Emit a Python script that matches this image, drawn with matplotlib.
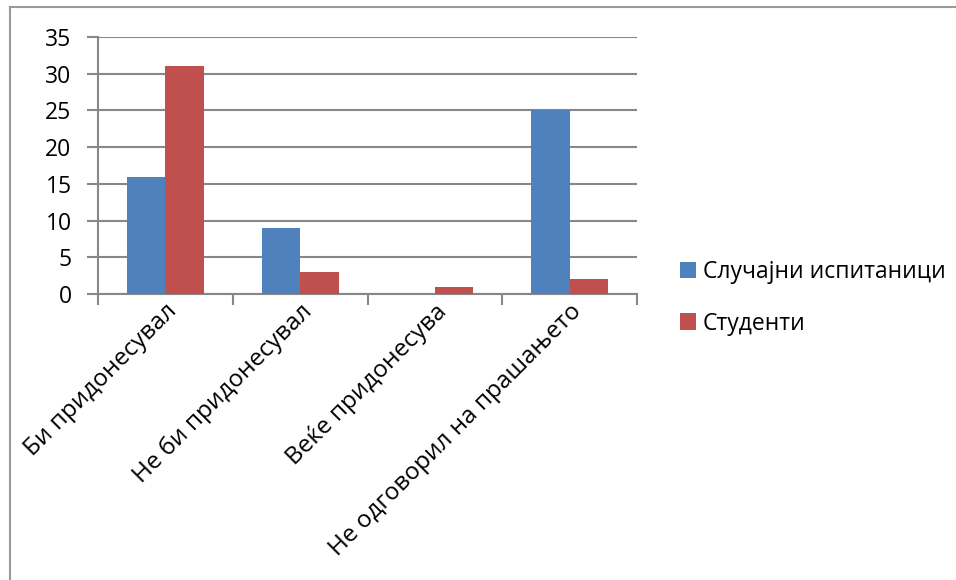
import matplotlib.pyplot as plt
import numpy as np
from matplotlib.lines import Line2D

plt.rcParams['font.family'] = ['Open Sans', 'DejaVu Sans']

categories = ['Би придонесувал', 'Не би придонесувал', 'Веќе придонесува', 'Не одговорил на прашањето']
random_resp = [16, 9, 0, 25]
students = [31, 3, 1, 2]
series_names = ['Случајни испитаници', 'Студенти']

BLUE = '#4F81BD'
RED = '#C0504D'
GRID = '#878787'
FS = 16.5

fig = plt.figure(figsize=(9.56, 5.8), dpi=100)
ax = fig.add_axes([98 / 956, 1 - 294 / 580, (637 - 98) / 956, (294 - 37) / 580])

x = np.arange(len(categories))
w = 1 / 3.5
ax.bar(x - w / 2, random_resp, w, color=BLUE, label=series_names[0], zorder=3)
ax.bar(x + w / 2, students, w, color=RED, label=series_names[1], zorder=3)

ax.set_xlim(-0.5, len(categories) - 0.5)
ax.set_ylim(0, 35)
ax.set_yticks(range(0, 36, 5))
ax.yaxis.grid(True, color=GRID, linewidth=1.5, zorder=0)
ax.tick_params(axis='y', length=8, width=1.5, color=GRID, pad=11, labelsize=FS)

# category ticks sit between groups, labels at the group centres
ax.set_xticks(np.arange(-0.5, len(categories)), minor=False)
ax.set_xticklabels([''] * (len(categories) + 1))
ax.tick_params(axis='x', length=8, width=1.5, color=GRID)
ax.set_xticks(x, minor=True)
ax.set_xticklabels(categories, minor=True, rotation=45, ha='right', va='top',
                   rotation_mode='anchor', fontsize=17.5)
ax.tick_params(axis='x', which='minor', length=0, pad=4)

for s in ['top', 'right']:
    ax.spines[s].set_visible(False)
for s in ['left', 'bottom']:
    ax.spines[s].set_color(GRID)
    ax.spines[s].set_linewidth(1.5)

ax.legend(loc='upper left', bbox_to_anchor=(680 / 956, 1 - 260 / 580),
          bbox_transform=fig.transFigure, frameon=False, fontsize=FS, borderpad=0,
          borderaxespad=0, handlelength=0.7, handleheight=0.7, handletextpad=0.3,
          labelspacing=1.2)

# outer frame of the chart (only left and top visible)
fig.add_artist(Line2D([10 / 956, 10 / 956], [0, 1 - 7 / 580], color='#999999', lw=1.5,
                      transform=fig.transFigure))
fig.add_artist(Line2D([10 / 956, 1], [1 - 7 / 580, 1 - 7 / 580], color='#999999', lw=1.5,
                      transform=fig.transFigure))

fig.savefig('out.png', dpi=100)
